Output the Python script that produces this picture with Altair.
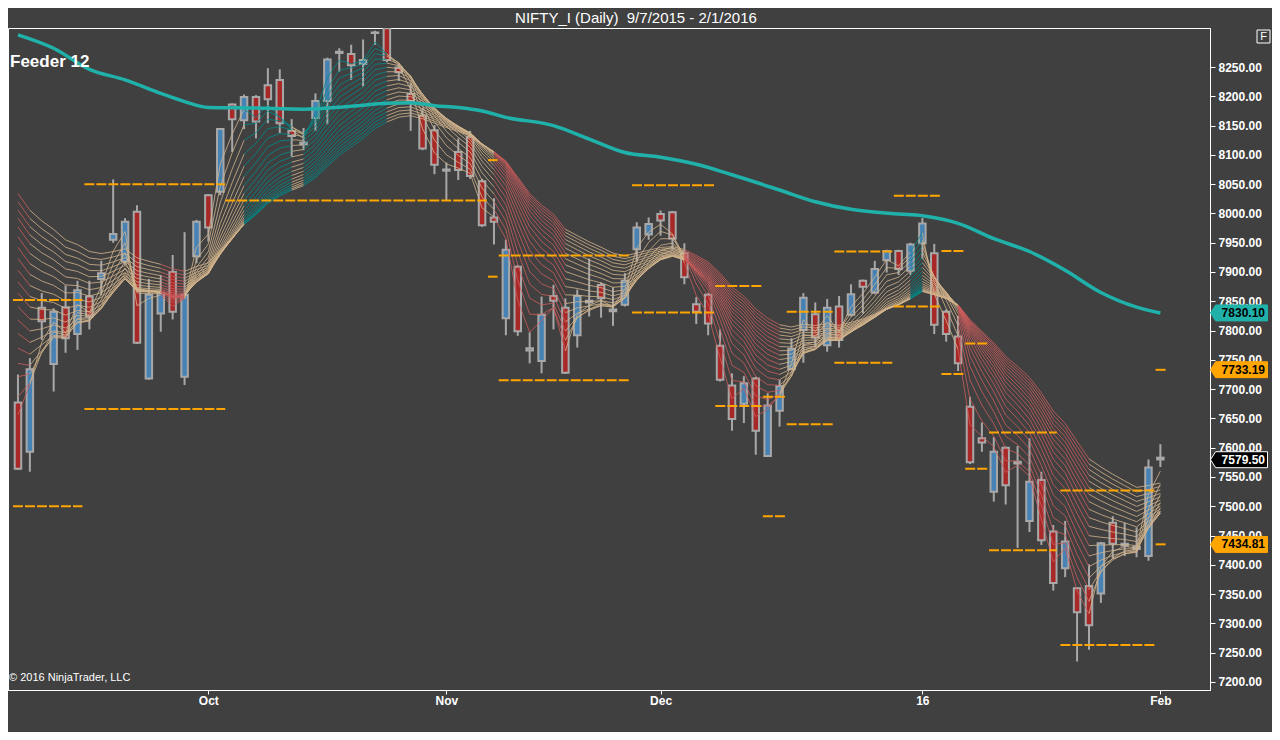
import altair as alt
import pandas as pd

# ---------------- data ----------------
opens = [7677, 7593, 7839, 7743, 7840, 7794, 7858, 7888, 7955, 7918,
         8003, 7718, 7829, 7900, 7721, 7927, 8031, 8037, 8186, 8159,
         8199, 8219, 8228, 8141, 8118, 8163, 8192, 8274, 8272, 8255,
         8308, 8316, 8249, 8204, 8167, 8142, 8073, 8105, 8131, 8055,
         7993, 7821, 7909, 7766, 7748, 7859, 7839, 7792, 7848, 7878,
         7833, 7844, 7939, 7964, 7999, 8002, 7932, 7845, 7861, 7774,
         7706, 7675, 7718, 7586, 7663, 7734, 7801, 7828, 7775, 7841,
         7827, 7885, 7865, 7920, 7936, 7902, 7949, 7932, 7832, 7790,
         7670, 7616, 7525, 7600, 7573, 7475, 7545, 7457, 7394, 7360,
         7364, 7351, 7472, 7433, 7431, 7415, 7583]
highs = [7725, 7753, 7864, 7838, 7877, 7885, 7885, 7919, 8058, 7992,
         8014, 7888, 7895, 7929, 7968, 7989, 8033, 8146, 8188, 8203,
         8202, 8248, 8246, 8161, 8146, 8205, 8266, 8282, 8288, 8297,
         8312, 8316, 8256, 8222, 8180, 8151, 8087, 8128, 8141, 8059,
         8026, 7955, 7912, 7797, 7858, 7878, 7855, 7870, 7923, 7882,
         7874, 7898, 7985, 7993, 8005, 8004, 7949, 7857, 7864, 7802,
         7727, 7722, 7721, 7693, 7716, 7787, 7864, 7848, 7854, 7859,
         7879, 7887, 7919, 7938, 7938, 7950, 7992, 7948, 7836, 7825,
         7687, 7643, 7618, 7602, 7603, 7616, 7559, 7468, 7475, 7362,
         7401, 7439, 7483, 7472, 7464, 7580, 7606]
lows = [7562, 7559, 7784, 7696, 7762, 7767, 7802, 7860, 7950, 7912,
        7777, 7716, 7798, 7819, 7707, 7915, 7952, 8031, 8105, 8144,
        8128, 8154, 8137, 8097, 8108, 8141, 8152, 8242, 8228, 8217,
        8288, 8258, 8226, 8141, 8108, 8067, 8023, 8057, 8059, 7977,
        7947, 7792, 7791, 7744, 7727, 7802, 7726, 7771, 7824, 7822,
        7808, 7841, 7917, 7955, 7962, 7938, 7879, 7811, 7792, 7713,
        7629, 7642, 7588, 7584, 7636, 7733, 7745, 7772, 7764, 7771,
        7824, 7829, 7862, 7899, 7895, 7895, 7923, 7794, 7781, 7731,
        7572, 7593, 7508, 7503, 7429, 7456, 7434, 7356, 7379, 7235,
        7255, 7335, 7411, 7415, 7413, 7407, 7567]
closes = [7564, 7734, 7816, 7832, 7787, 7869, 7824, 7898, 7965, 7986,
          7779, 7861, 7864, 7832, 7861, 7986, 7976, 8144, 8161, 8199,
          8157, 8195, 8154, 8132, 8121, 8192, 8263, 8276, 8253, 8262,
          8309, 8262, 8241, 8192, 8111, 8083, 8075, 8074, 8064, 7980,
          7986, 7938, 7799, 7770, 7827, 7851, 7728, 7859, 7851, 7855,
          7836, 7885, 7976, 7982, 7988, 7957, 7891, 7832, 7812, 7716,
          7649, 7710, 7629, 7672, 7705, 7769, 7856, 7788, 7839, 7784,
          7862, 7875, 7905, 7936, 7905, 7947, 7983, 7810, 7794, 7744,
          7575, 7609, 7593, 7536, 7576, 7542, 7442, 7369, 7440, 7319,
          7297, 7437, 7436, 7436, 7427, 7566, 7580]

# x-axis month labels (bar index -> label)
month_idx = [16, 36, 54, 76, 96]
month_lbl = ["Oct", "Nov", "Dec", "16", "Feb"]

# long moving average (teal), read at selected bars
ma_idx = [0, 3, 6, 9, 12, 14, 16, 20, 24, 28, 31, 33, 35, 37, 39, 41, 45, 48,
          51, 54, 57, 60, 64, 67, 70, 74, 76, 79, 82, 85, 88, 91, 94, 96]
ma_val = [8305, 8282, 8246, 8228, 8205, 8191, 8181, 8180, 8178, 8183, 8188,
          8189, 8184, 8181, 8175, 8164, 8150, 8127, 8104, 8096, 8084, 8066,
          8040, 8020, 8007, 7999, 7996, 7983, 7957, 7935, 7903, 7865, 7840, 7830]

# orange pivot levels: start bar, end bar, price
lvl_start = [-0.42, -0.42, 5.58, 5.58, 17.42, 39.5, 39.5, 40.4, 40.4, 51.6, 51.6,
             58.6, 58.6, 62.6, 62.6, 64.6, 64.6, 68.6, 68.6, 73.6, 73.6, 77.6,
             77.6, 79.6, 79.6, 81.6, 81.6, 87.6, 87.6, 95.6, 95.6]
lvl_end = [5.42, 5.42, 17.42, 17.42, 39.4, 40.3, 40.3, 51.4, 51.4, 58.5, 58.5,
           62.5, 62.5, 64.5, 64.5, 68.5, 68.5, 73.5, 73.5, 77.5, 77.5, 79.5,
           79.5, 81.5, 81.5, 87.3, 87.3, 95.5, 95.5, 96.5, 96.5]
lvl_price = [7852, 7500, 8050, 7666, 8022, 8091, 7892, 7928, 7715, 8048, 7831,
             7876, 7671, 7687, 7483, 7832, 7640, 7935, 7745, 8030, 7841, 7936,
             7726, 7778, 7564, 7626, 7425, 7527, 7263, 7733, 7435]

# EMA ribbon ("Feeder 12"): periods and their values at the first bar
ema_periods = list(range(2, 21))
ema_seed = [7656, 7687, 7721, 7744, 7770, 7795, 7818, 7841, 7864, 7883,
            7903, 7923, 7942, 7960, 7977, 7992, 8006, 8020, 8034]
# ribbon colour regime, by first bar index where it starts
regime_from = [1, 2, 13, 15, 20, 24, 25, 32, 41, 47, 57, 65, 76, 77, 80, 91]
regime_kind = ["down", "flat", "down", "flat", "up", "flat", "up", "flat",
               "down", "flat", "down", "flat", "up", "flat", "down", "flat"]

# right-axis price tags
tag_price = [7830.10, 7733.19, 7579.50, 7434.81]
tag_kind = ["ma", "level", "last", "level"]

TITLE = "NIFTY_I (Daily)\u00a0\u00a09/7/2015 - 2/1/2016"

# ---------------- build tables ----------------
n = len(closes)
candles = pd.DataFrame({
    "x": list(range(n)), "open": opens, "high": highs, "low": lows, "close": closes,
})
candles["dir"] = ["up" if c >= o else "down" for o, c in zip(opens, closes)]

def regime_at(i):
    k = "flat"
    for s, r in zip(regime_from, regime_kind):
        if i >= s:
            k = r
    return k

seg_rows = []
for p, seed in zip(ema_periods, ema_seed):
    a = 2.0 / (p + 1)
    e = [float(seed)]
    for i in range(1, n):
        e.append(e[-1] + a * (closes[i] - e[-1]))
    for i in range(1, n):
        seg_rows.append({"x": i - 1, "x2": i, "y": e[i - 1], "y2": e[i],
                         "reg": regime_at(i), "p": p})
ribbon = pd.DataFrame(seg_rows)

ma = pd.DataFrame({"x": ma_idx, "y": ma_val})
levels = pd.DataFrame({"x": lvl_start, "x2": lvl_end, "y": lvl_price})
tags = pd.DataFrame({"y": tag_price, "kind": tag_kind,
                     "txt": [f"{v:.2f}" for v in tag_price]})

# ---------------- scales ----------------
W, H = 1202, 662
xs = alt.Scale(domain=[-0.417, 99.75], nice=False, zero=False)
ys = alt.Scale(domain=[7186.3, 8316.6], nice=False, zero=False)

label_expr = " : ".join(
    f"datum.value == {i} ? '{l}'" for i, l in zip(month_idx, month_lbl)) + " : ''"
xaxis = alt.Axis(values=month_idx, labelExpr=label_expr, title=None, grid=False,
                 domainColor="#FFFFFF", tickColor="#FFFFFF", tickSize=4,
                 labelColor="#FFFFFF", labelFont="Liberation Sans",
                 labelFontWeight="bold", labelFontSize=12, labelPadding=1)
yaxis = alt.Axis(orient="right", values=list(range(7200, 8300, 50)), format=".2f",
                 title=None, grid=False, domainColor="#FFFFFF", tickColor="#FFFFFF",
                 tickSize=5, labelColor="#FFFFFF", labelFont="Liberation Sans",
                 labelFontWeight="bold", labelFontSize=12, labelPadding=3)

X = lambda f="x": alt.X(f"{f}:Q", scale=xs, axis=xaxis)
Y = lambda f="y": alt.Y(f"{f}:Q", scale=ys, axis=yaxis)

base_c = alt.Chart(candles)
wicks = base_c.mark_rule(strokeWidth=2, color="#A8A8A8", clip=True).encode(
    x=X(), y=Y("low"), y2="high:Q")
bodies = base_c.mark_bar(width=6.5, stroke="#A8A8A8", strokeWidth=2, clip=True).encode(
    x=X(), y=Y("open"), y2="close:Q",
    fill=alt.Fill("dir:N", scale=alt.Scale(domain=["up", "down"],
                                            range=["#4682B4", "#A82828"]),
                  legend=None))

rib = alt.Chart(ribbon).mark_rule(strokeWidth=1, opacity=0.8, clip=True).encode(
    x=X(), x2="x2:Q", y=Y(), y2="y2:Q",
    color=alt.Color("reg:N", scale=alt.Scale(domain=["down", "flat", "up"],
                                              range=["#CD5C5C", "#D2B48C", "#008B8B"]),
                    legend=None))

lvl = alt.Chart(levels).mark_rule(strokeWidth=2, color="#FFA500",
                                  strokeDash=[10, 2], clip=True).encode(
    x=X(), x2="x2:Q", y=Y())

ma_line = alt.Chart(ma).mark_line(color="#20B2AA", strokeWidth=3.5,
                                  interpolate="monotone", clip=True).encode(
    x=X(), y=Y())

tag_shape = "M-1,0 L-0.82,-0.28 L1,-0.28 L1,0.28 L-0.82,0.28 Z"
tag_box = alt.Chart(tags).mark_point(shape=tag_shape, size=3249, filled=True,
                                     opacity=1, strokeWidth=1).encode(
    x=alt.value(1231), y=Y(),
    fill=alt.Fill("kind:N", scale=alt.Scale(domain=["ma", "level", "last"],
                                             range=["#20B2AA", "#FFA500", "#000000"]),
                  legend=None),
    stroke=alt.Stroke("kind:N", scale=alt.Scale(domain=["ma", "level", "last"],
                                                 range=["#20B2AA", "#FFA500", "#FFFFFF"]),
                      legend=None))
tag_txt = alt.Chart(tags).mark_text(align="right", baseline="middle", fontSize=12,
                                    fontWeight="bold", font="Liberation Sans").encode(
    x=alt.value(1257), y=Y(), text="txt:N",
    color=alt.Color("kind:N", scale=alt.Scale(domain=["ma", "level", "last"],
                                               range=["#000000", "#000000", "#FFFFFF"]),
                    legend=None))

one = pd.DataFrame({"t": ["Feeder 12"], "c": ["\u00a9 2016 NinjaTrader, LLC"], "f": ["F"]})
feeder = alt.Chart(one).mark_text(align="left", baseline="middle", fontSize=17,
                                  fontWeight="bold", font="Liberation Sans",
                                  color="#FFFFFF").encode(
    text="t:N", x=alt.value(2), y=alt.value(34))
copy_txt = alt.Chart(one).mark_text(align="left", baseline="middle", fontSize=11,
                                    font="Liberation Sans", color="#FFFFFF").encode(
    text="c:N", x=alt.value(1), y=alt.value(650))
f_box = alt.Chart(one).mark_rect(fill="#404040", stroke="#FFFFFF", strokeWidth=1).encode(
    x=alt.value(1249), x2=alt.value(1262), y=alt.value(2), y2=alt.value(15))
f_txt = alt.Chart(one).mark_text(align="center", baseline="middle", fontSize=11,
                                 font="Liberation Sans", color="#FFFFFF").encode(
    text="f:N", x=alt.value(1255.5), y=alt.value(9))

chart = alt.layer(
    wicks, bodies, rib, lvl, ma_line, tag_box, tag_txt, feeder, copy_txt, f_box, f_txt
).resolve_scale(
    color="independent", fill="independent", stroke="independent"
).properties(
    width=W, height=H,
    title=alt.TitleParams(TITLE, color="#FFFFFF", fontSize=15, font="Liberation Sans",
                          fontWeight="normal", anchor="middle", offset=2, dx=27),
    autosize=alt.AutoSizeParams(type="none"),
    padding={"left": 0, "top": 20, "right": 62, "bottom": 42},
).configure(background="#404040").configure_view(stroke="#FFFFFF", strokeWidth=1)

chart.save("out.html", embed_options={"renderer": "svg", "actions": False})
